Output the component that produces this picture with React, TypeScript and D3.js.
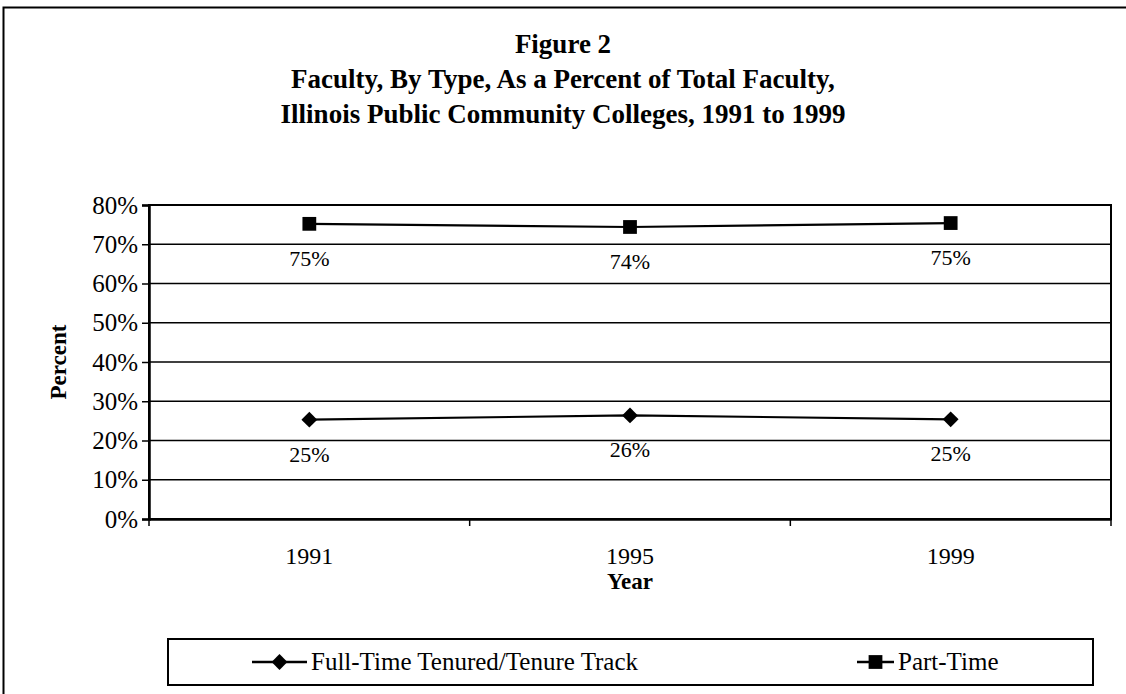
import { useEffect, useRef } from 'react';
import * as d3 from 'd3';

const years = ['1991', '1995', '1999'];
const fullTime = [25.3, 26.4, 25.4];
const partTime = [75.2, 74.4, 75.4];
const yTicks = [0, 10, 20, 30, 40, 50, 60, 70, 80];
const titleLines = [
  'Figure 2',
  'Faculty, By Type, As a Percent of Total Faculty,',
  'Illinois Public Community Colleges, 1991 to 1999',
];
const legendNames = ['Full-Time Tenured/Tenure Track', 'Part-Time'];

const FONT = '"Liberation Serif", "Times New Roman", serif';

export default function App() {
  const ref = useRef<SVGSVGElement>(null);

  useEffect(() => {
    if (!ref.current) return;
    const svg = d3.select(ref.current);
    svg.selectAll('*').remove();

    const width = 1126;
    const height = 694;
    const left = 149;
    const right = 1111;
    const top = 205;
    const bottom = 519;

    svg.attr('width', width).attr('height', height);

    // outer frame, cut off at the right and bottom
    svg.append('path')
      .attr('d', `M3.5,${height} V7.5 H${width}`)
      .attr('fill', 'none').attr('stroke', '#000').attr('stroke-width', 2);

    // title
    svg.append('g')
      .selectAll('text')
      .data(titleLines)
      .join('text')
      .attr('x', 563)
      .attr('y', (d, i) => 53 + i * 35)
      .attr('text-anchor', 'middle')
      .style('font-family', FONT)
      .style('font-size', '27px')
      .style('font-weight', 'bold')
      .text(d => d);

    const x = d3.scaleBand().domain(years).range([left, right]);
    const y = d3.scaleLinear().domain([0, 80]).range([bottom, top]);

    // gridlines
    svg.append('g')
      .selectAll('line')
      .data(yTicks)
      .join('line')
      .attr('x1', left).attr('x2', right)
      .attr('y1', d => y(d)).attr('y2', d => y(d))
      .attr('stroke', '#000').attr('stroke-width', 1.6);

    // plot border
    svg.append('rect')
      .attr('x', left).attr('y', top)
      .attr('width', right - left).attr('height', bottom - top)
      .attr('fill', 'none').attr('stroke', '#000').attr('stroke-width', 2);

    // y axis
    const yAxis = svg.append('g')
      .attr('transform', `translate(${left},0)`)
      .call(d3.axisLeft(y).tickValues(yTicks).tickSize(7).tickPadding(4).tickFormat(d => `${d}%`));
    yAxis.select('.domain').attr('stroke-width', 2.5);
    yAxis.selectAll('.tick line').attr('stroke-width', 1.5);
    yAxis.selectAll('text')
      .style('font-family', FONT)
      .style('font-size', '25px')
      .attr('fill', '#000');

    // x axis, ticks between the categories
    const xAxis = svg.append('g')
      .attr('transform', `translate(0,${bottom})`)
      .call(d3.axisBottom(x).tickSize(0).tickPadding(28));
    xAxis.select('.domain').attr('stroke-width', 2.5);
    xAxis.selectAll('text')
      .style('font-family', FONT)
      .style('font-size', '24px')
      .attr('fill', '#000');
    const bounds = years.map(d => x(d)! + x.bandwidth()).concat([left]);
    svg.append('g')
      .selectAll('line')
      .data(bounds)
      .join('line')
      .attr('x1', d => d).attr('x2', d => d)
      .attr('y1', bottom).attr('y2', bottom + 7)
      .attr('stroke', '#000').attr('stroke-width', 1.5);

    // axis titles
    svg.append('text')
      .attr('transform', `translate(66,${(top + bottom) / 2}) rotate(-90)`)
      .attr('text-anchor', 'middle')
      .style('font-family', FONT)
      .style('font-size', '23px')
      .style('font-weight', 'bold')
      .text('Percent');
    svg.append('text')
      .attr('x', 630).attr('y', 589)
      .attr('text-anchor', 'middle')
      .style('font-family', FONT)
      .style('font-size', '23px')
      .style('font-weight', 'bold')
      .text('Year');

    const cx = (d: string) => x(d)! + x.bandwidth() / 2;
    const line = d3.line<number>()
      .x((d, i) => cx(years[i]))
      .y(d => y(d));

    const diamond = d3.symbol().type(d3.symbolDiamond2).size(160);
    const square = d3.symbol().type(d3.symbolSquare).size(190);

    const series = [
      { values: fullTime, sym: diamond },
      { values: partTime, sym: square },
    ];

    series.forEach(s => {
      svg.append('path')
        .datum(s.values)
        .attr('d', line)
        .attr('fill', 'none')
        .attr('stroke', '#000')
        .attr('stroke-width', 2.2);
      svg.append('g')
        .selectAll('path')
        .data(s.values)
        .join('path')
        .attr('transform', (d, i) => `translate(${cx(years[i])},${y(d)})`)
        .attr('d', s.sym() as string)
        .attr('fill', '#000');
      svg.append('g')
        .selectAll('text')
        .data(s.values)
        .join('text')
        .attr('x', (d, i) => cx(years[i]))
        .attr('y', d => y(d) + 42)
        .attr('text-anchor', 'middle')
        .style('font-family', FONT)
        .style('font-size', '22px')
        .text(d => `${Math.round(d)}%`);
    });

    // legend
    const lg = svg.append('g');
    lg.append('rect')
      .attr('x', 168).attr('y', 639)
      .attr('width', 1093 - 168).attr('height', 685 - 639)
      .attr('fill', 'none').attr('stroke', '#000').attr('stroke-width', 2);
    const legendItems = [
      { name: legendNames[0], x0: 252, x1: 307, sym: diamond },
      { name: legendNames[1], x0: 857, x1: 894, sym: square },
    ];
    legendItems.forEach(it => {
      const ly = 662;
      lg.append('line')
        .attr('x1', it.x0).attr('x2', it.x1)
        .attr('y1', ly).attr('y2', ly)
        .attr('stroke', '#000').attr('stroke-width', 2.5);
      lg.append('path')
        .attr('transform', `translate(${(it.x0 + it.x1) / 2},${ly})`)
        .attr('d', it.sym() as string)
        .attr('fill', '#000');
      lg.append('text')
        .attr('x', it.x1 + 4).attr('y', ly + 8)
        .style('font-family', FONT)
        .style('font-size', '25px')
        .text(it.name);
    });
  }, []);

  return (
    <div style={{ position: 'absolute', left: 0, top: 0, background: '#fff' }}>
      <svg ref={ref} style={{ display: 'block' }}></svg>
    </div>
  );
}
